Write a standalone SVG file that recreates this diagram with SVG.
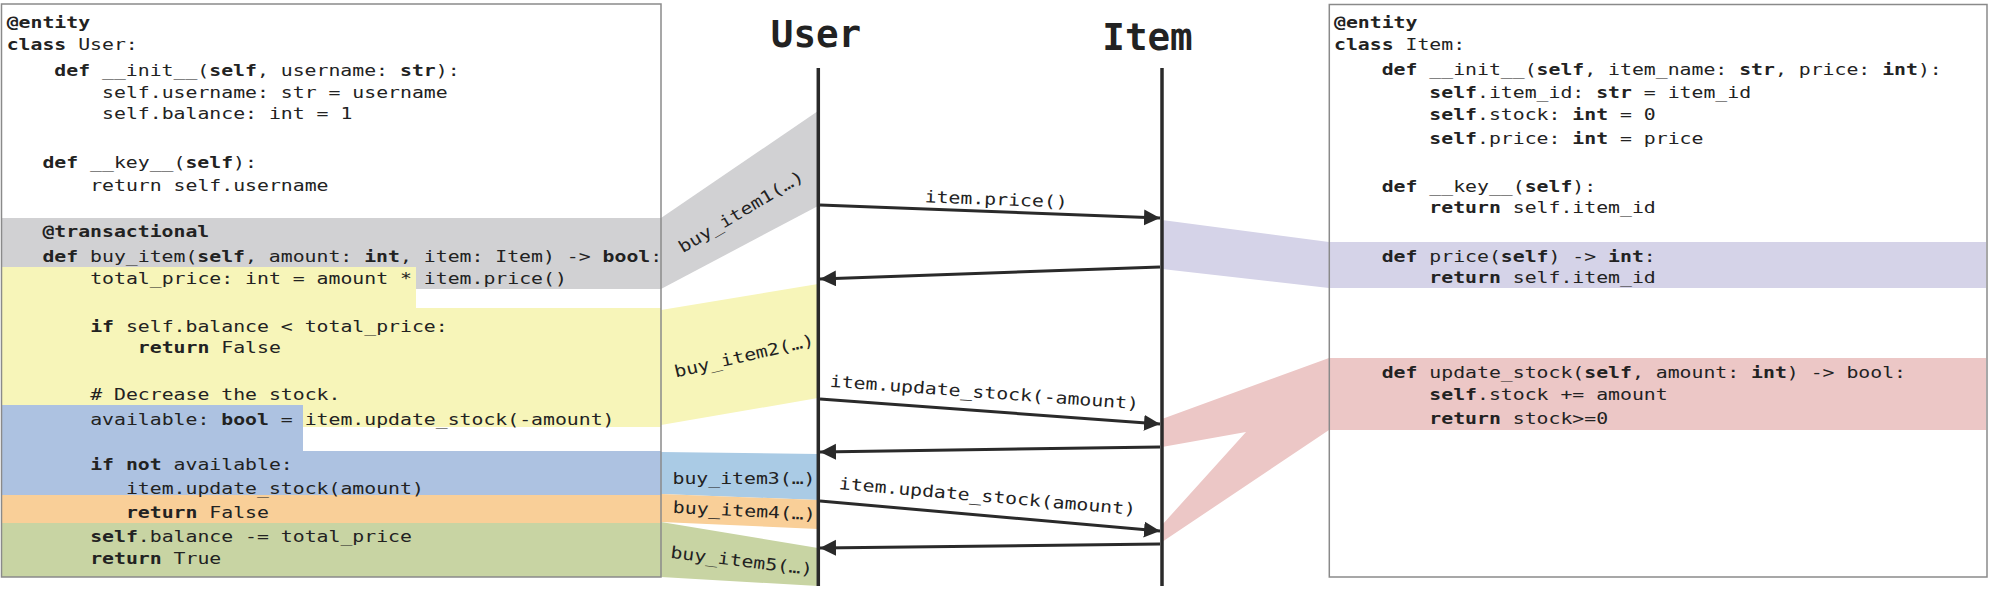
<svg xmlns="http://www.w3.org/2000/svg" width="1992" height="596" viewBox="0 0 1992 596">
<defs>
<style>
.code{font-family:"DejaVu Sans Mono","Liberation Mono",monospace;font-size:16.5px;fill:#222;white-space:pre;}
.b{font-weight:bold;}
.title{font-family:"DejaVu Sans Mono","Liberation Mono",monospace;font-size:37.5px;font-weight:bold;fill:#222;}
.box{fill:none;stroke:#8a8a8a;stroke-width:1.5;}
.life{stroke:#2a2a2a;stroke-width:3.5;}
.msg{stroke:#2a2a2a;stroke-width:3;fill:none;marker-end:url(#ah);}
.gray{fill:#d1d1d3;}
.yel{fill:#f7f5b9;}
.peri{fill:#adc2e1;}
.sky{fill:#aacbe5;}
.ora{fill:#f9cf98;}
.grn{fill:#c8d4a3;}
.pur{fill:#d5d3e8;}
.pink{fill:#ecc7c6;}
</style>
<marker id="ah" markerUnits="userSpaceOnUse" markerWidth="18" markerHeight="18" refX="16" refY="8" orient="auto"><path d="M0,0 L16,8 L0,16 Z" fill="#2a2a2a"/></marker>
</defs>
<rect width="1992" height="596" fill="#ffffff"/>

<g id="bands">
<polygon class="gray" points="2,218 661,218 661,289 416,289 416,267 2,267"/>
<polygon class="yel" points="2,267 416,267 416,308 661,308 661,427 303,427 303,405 2,405"/>
<polygon class="peri" points="2,405 303,405 303,451 661,451 661,495 2,495"/>
<polygon class="ora" points="2,495 661,495 661,523 2,523"/>
<polygon class="grn" points="2,523 661,523 661,577 2,577"/>
<polygon class="gray" points="661,218 818,111 818,206 661,289"/>
<polygon class="yel" points="661,310 818,284 818,398 661,425"/>
<polygon class="sky" points="661,452 818,454 818,500 661,494"/>
<polygon class="ora" points="661,494 818,500 818,529 661,522"/>
<polygon class="grn" points="661,522 818,548 818,586 661,577"/>
<polygon class="pur" points="1162,220 1329,242 1986,242 1986,288 1329,288 1162,269"/>
<polygon class="pink" points="1162,419 1329,358 1986,358 1986,430 1329,430 1162,542 1162,525 1246,432 1162,447"/>
</g>

<g id="user-code">
<rect class="box" x="1.5" y="4" width="659.5" height="573"/>
<g transform="scale(1.2 1)" class="code">
<text x="5.58" y="28" class="b">@entity</text>
<text x="5.58" y="50"><tspan class="b">class</tspan> User:</text>
<text x="45.32" y="76"><tspan class="b">def</tspan> __init__(<tspan class="b">self</tspan>, username: <tspan class="b">str</tspan>):</text>
<text x="85.05" y="98">self.username: str = username</text>
<text x="85.05" y="119">self.balance: int = 1</text>
<text x="35.38" y="168"><tspan class="b">def</tspan> __key__(<tspan class="b">self</tspan>):</text>
<text x="75.12" y="191">return self.username</text>
<text x="35.38" y="237" class="b">@transactional</text>
<text x="35.38" y="262"><tspan class="b">def</tspan> buy_item(<tspan class="b">self</tspan>, amount: <tspan class="b">int</tspan>, item: Item) -&gt; <tspan class="b">bool</tspan>:</text>
<text x="75.12" y="284">total_price: int = amount * item.price()</text>
<text x="75.12" y="332"><tspan class="b">if</tspan> self.balance &lt; total_price:</text>
<text x="114.85" y="353"><tspan class="b">return</tspan> False</text>
<text x="75.12" y="400"># Decrease the stock.</text>
<text x="75.12" y="425">available: <tspan class="b">bool</tspan> = item.update_stock(-amount)</text>
<text x="75.12" y="470"><tspan class="b">if not</tspan> available:</text>
<text x="104.92" y="494">item.update_stock(amount)</text>
<text x="104.92" y="518"><tspan class="b">return</tspan> False</text>
<text x="75.12" y="542"><tspan class="b">self</tspan>.balance -= total_price</text>
<text x="75.12" y="564"><tspan class="b">return</tspan> True</text>
</g>
</g>

<g id="item-code">
<rect class="box" x="1329.3" y="4.5" width="657.7" height="572.5"/>
<g transform="scale(1.2 1)" class="code">
<text x="1111.67" y="28" class="b">@entity</text>
<text x="1111.67" y="50"><tspan class="b">class</tspan> Item:</text>
<text x="1151.4" y="75"><tspan class="b">def</tspan> __init__(<tspan class="b">self</tspan>, item_name: <tspan class="b">str</tspan>, price: <tspan class="b">int</tspan>):</text>
<text x="1191.13" y="98"><tspan class="b">self</tspan>.item_id: <tspan class="b">str</tspan> = item_id</text>
<text x="1191.13" y="120"><tspan class="b">self</tspan>.stock: <tspan class="b">int</tspan> = 0</text>
<text x="1191.13" y="144"><tspan class="b">self</tspan>.price: <tspan class="b">int</tspan> = price</text>
<text x="1151.4" y="192"><tspan class="b">def</tspan> __key__(<tspan class="b">self</tspan>):</text>
<text x="1191.13" y="213"><tspan class="b">return</tspan> self.item_id</text>
<text x="1151.4" y="262"><tspan class="b">def</tspan> price(<tspan class="b">self</tspan>) -&gt; <tspan class="b">int</tspan>:</text>
<text x="1191.13" y="283"><tspan class="b">return</tspan> self.item_id</text>
<text x="1151.4" y="378"><tspan class="b">def</tspan> update_stock(<tspan class="b">self</tspan>, amount: <tspan class="b">int</tspan>) -&gt; bool:</text>
<text x="1191.13" y="400"><tspan class="b">self</tspan>.stock += amount</text>
<text x="1191.13" y="424"><tspan class="b">return</tspan> stock&gt;=0</text>
</g>
</g>

<g id="user-lifeline">
<text class="title" x="816" y="47" text-anchor="middle">User</text>
<line class="life" x1="818.3" y1="68" x2="818.3" y2="586"/>
</g>
<g id="item-lifeline">
<text class="title" x="1147.5" y="50" text-anchor="middle">Item</text>
<line class="life" x1="1162" y1="68" x2="1162" y2="586"/>
</g>

<g id="connectors">
<line class="msg" x1="820" y1="205" x2="1160" y2="218"/>
<line class="msg" x1="1160" y1="267" x2="820" y2="279"/>
<line class="msg" x1="820" y1="399" x2="1160" y2="424"/>
<line class="msg" x1="1160" y1="447" x2="820" y2="452"/>
<line class="msg" x1="820" y1="501" x2="1160" y2="531"/>
<line class="msg" x1="1160" y1="544" x2="820" y2="548"/>
<g class="code" text-anchor="middle">
<text transform="translate(996 205) rotate(2.2) scale(1.2 1)">item.price()</text>
<text transform="translate(984 398) rotate(4.2) scale(1.2 1)">item.update_stock(-amount)</text>
<text transform="translate(987 502) rotate(5) scale(1.2 1)">item.update_stock(amount)</text>
<text transform="translate(744 216.5) rotate(-31) scale(1.2 1)">buy_item1(…)</text>
<text transform="translate(745.5 361.5) rotate(-13) scale(1.2 1)">buy_item2(…)</text>
<text transform="translate(744 484) scale(1.2 1)">buy_item3(…)</text>
<text transform="translate(744 516.5) rotate(3) scale(1.2 1)">buy_item4(…)</text>
<text transform="translate(741 566.5) rotate(7) scale(1.2 1)">buy_item5(…)</text>
</g>
</g>
</svg>
